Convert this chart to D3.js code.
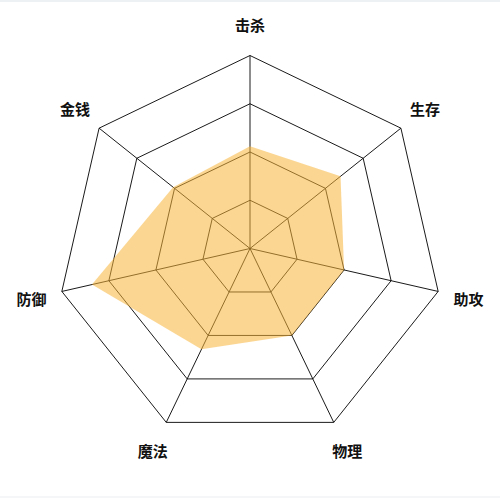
<!DOCTYPE html>
<html>
<head>
<meta charset="utf-8">
<script src="https://cdn.jsdelivr.net/npm/d3@7/dist/d3.min.js"></script>
<style>
html,body{margin:0;padding:0;background:#fff;}
svg{display:block;}
</style>
</head>
<body>
<svg id="chart" width="500" height="498"></svg>
<script>
const categories = ["击杀", "生存", "助攻", "物理", "魔法", "防御", "金钱"];
const values = [53, 60, 50, 50, 58, 84, 51];
const maxValue = 100;
const levels = [25, 50, 75, 100];

const W = 500, H = 498;
const cx = 250, cy = 248.5, R = 193, labelR = 224;

const svg = d3.select("#chart");
svg.append("rect").attr("x",0).attr("y",0).attr("width",W).attr("height",H).attr("fill","#fff");
svg.append("rect").attr("x",0).attr("y",0).attr("width",W).attr("height",2).attr("fill","#edf1f4");
svg.append("rect").attr("x",0).attr("y",H-2).attr("width",W).attr("height",2).attr("fill","#f4f6f7");

const g = svg.append("g").attr("transform", `translate(${cx},${cy})`);
const r = d3.scaleLinear().domain([0, maxValue]).range([0, R]);
const angle = d3.scalePoint().domain(categories).range([0, 2*Math.PI*(categories.length-1)/categories.length]);
const pt = (cat, v) => {
  const a = angle(cat) - Math.PI/2;
  return [r(v)*Math.cos(a), r(v)*Math.sin(a)];
};

// grid rings
const line = d3.line().curve(d3.curveLinearClosed);
g.selectAll("path.ring").data(levels).join("path")
  .attr("class","ring")
  .attr("d", lv => line(categories.map(c => pt(c, lv))))
  .attr("fill","none").attr("stroke","#000").attr("stroke-width",0.9);

// axes
g.selectAll("line.axis").data(categories).join("line")
  .attr("class","axis")
  .attr("x1",0).attr("y1",0)
  .attr("x2", c => pt(c, maxValue)[0]).attr("y2", c => pt(c, maxValue)[1])
  .attr("stroke","#000").attr("stroke-width",0.9);

// data area
g.append("path")
  .attr("d", line(categories.map((c,i) => pt(c, values[i]))))
  .attr("fill","#f7b53b").attr("fill-opacity",0.55).attr("stroke","none");

// labels
g.selectAll("text.lbl").data(categories).join("text")
  .attr("class","lbl")
  .attr("x", c => { const a = angle(c) - Math.PI/2; return labelR*Math.cos(a); })
  .attr("y", c => { const a = angle(c) - Math.PI/2; return labelR*Math.sin(a); })
  .attr("text-anchor","middle").attr("dominant-baseline","central")
  .attr("font-family","'Noto Sans CJK SC', sans-serif")
  .attr("font-size",15).attr("font-weight","bold").attr("fill","#111")
  .text(c => c);
</script>
</body>
</html>
